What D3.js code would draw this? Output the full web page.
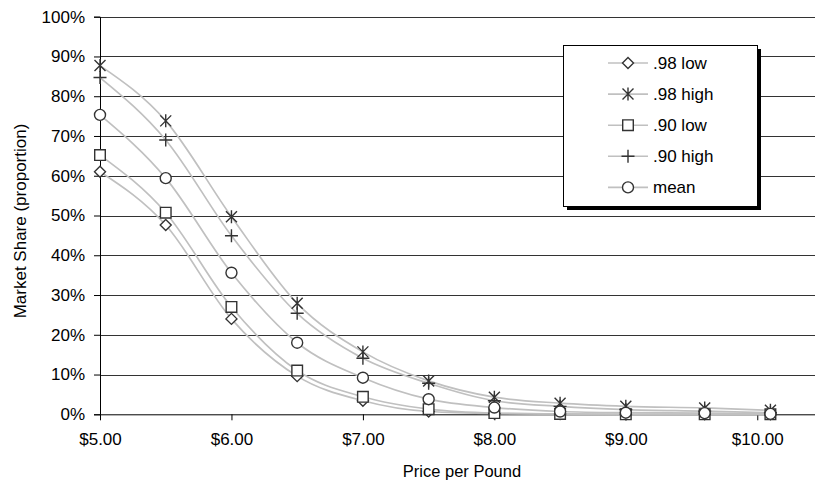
<!DOCTYPE html>
<html>
<head>
<meta charset="utf-8">
<script src="https://cdn.jsdelivr.net/npm/d3@7/dist/d3.min.js"></script>
<style>
  html, body { margin: 0; padding: 0; background: #fff; }
  svg { display: block; }
  text { font-family: "Liberation Sans", Arial, sans-serif; fill: #000; }
</style>
</head>
<body>
<svg id="chart" width="815" height="485"></svg>
<script>
// ---------- data ----------
const prices = [5.0, 5.5, 6.0, 6.5, 7.0, 7.5, 8.0, 8.5, 9.0, 9.6, 10.1];
const low98  = [0.610, 0.476, 0.240, 0.096, 0.034, 0.007, 0.002, 0.001, 0.000, 0.000, 0.000];
const high98 = [0.877, 0.738, 0.497, 0.279, 0.157, 0.084, 0.043, 0.028, 0.020, 0.016, 0.010];
const low90  = [0.652, 0.507, 0.270, 0.110, 0.044, 0.013, 0.003, 0.001, 0.000, 0.000, 0.000];
const high90 = [0.847, 0.690, 0.449, 0.254, 0.141, 0.078, 0.034, 0.020, 0.012, 0.008, 0.004];
const meanShare = [0.753, 0.594, 0.356, 0.180, 0.092, 0.038, 0.017, 0.007, 0.004, 0.003, 0.001];
const seriesNames = [".98 low", ".98 high", ".90 low", ".90 high", "mean"];
const seriesMarkers = ["diamond", "asterisk", "square", "plus", "circle"];
const xTickValues = [5, 6, 7, 8, 9, 10];
const yTickValues = [0, 0.1, 0.2, 0.3, 0.4, 0.5, 0.6, 0.7, 0.8, 0.9, 1.0];

const seriesValues = [low98, high98, low90, high90, meanShare];
const series = seriesNames.map((name, i) => ({
  name, marker: seriesMarkers[i],
  points: prices.map((p, j) => ({ x: p, y: seriesValues[i][j] }))
}));

// ---------- layout ----------
const svg = d3.select("#chart");
const plotLeft = 100, plotRight = 823, plotTop = 16.7, plotBottom = 414.3;
const x = d3.scaleLinear().domain([5, 10.5]).range([plotLeft, plotRight]);
const y = d3.scaleLinear().domain([0, 1]).range([plotBottom, plotTop]);
const FONT = "17px";

// gridlines
svg.append("g").selectAll("line")
  .data(yTickValues.filter(v => v > 0))
  .join("line")
  .attr("x1", plotLeft).attr("x2", 815)
  .attr("y1", d => Math.round(y(d)) + 0.5).attr("y2", d => Math.round(y(d)) + 0.5)
  .attr("stroke", "#333").attr("stroke-width", 1);

// y axis
const yAxis = d3.axisLeft(y).tickValues(yTickValues).tickFormat(d3.format(".0%"))
  .tickSize(6).tickPadding(9);
const gy = svg.append("g").attr("transform", `translate(${plotLeft},0)`).call(yAxis);
gy.select(".domain").attr("stroke", "#000");
gy.selectAll(".tick line").attr("stroke", "#000");
gy.selectAll(".tick text").style("font-size", FONT).style("font-family", "Liberation Sans, Arial, sans-serif").attr("fill", "#000");

// x axis
const xAxis = d3.axisBottom(x).tickValues(xTickValues).tickFormat(d3.format("$.2f"))
  .tickSize(6).tickSizeOuter(0).tickPadding(13);
const gx = svg.append("g").attr("transform", `translate(0,${plotBottom})`).call(xAxis);
gx.select(".domain").attr("stroke", "#000");
gx.selectAll(".tick line").attr("stroke", "#000");
gx.selectAll(".tick text").style("font-size", FONT).style("font-family", "Liberation Sans, Arial, sans-serif").attr("fill", "#000");

// axis titles
svg.append("text")
  .attr("transform", `translate(26,221) rotate(-90)`)
  .attr("text-anchor", "middle")
  .style("font-size", FONT)
  .text("Market Share (proportion)");
svg.append("text")
  .attr("x", 462).attr("y", 477)
  .attr("text-anchor", "middle")
  .style("font-size", "16.5px")
  .text("Price per Pound");

// ---------- marks ----------
function markerPath(type) {
  switch (type) {
    case "diamond": return "M0,-5.5L5.5,0L0,5.5L-5.5,0Z";
    case "square": return "M-5.3,-5.3H5.3V5.3H-5.3Z";
    case "asterisk": return "M-5.5,-5.5L5.5,5.5M-5.5,5.5L5.5,-5.5M0,-6.5V6.5";
    case "plus": return "M-6.5,0H6.5M0,-6.5V6.5";
    case "circle": return "M5.5,0A5.5,5.5 0 1 1 -5.5,0A5.5,5.5 0 1 1 5.5,0Z";
  }
}
function drawMarker(sel, type) {
  sel.append("path")
    .attr("d", markerPath(type))
    .attr("fill", (type === "asterisk" || type === "plus") ? "none" : "#fff")
    .attr("stroke", "#333")
    .attr("stroke-width", 1.4);
}

const line = d3.line().x(d => x(d.x)).y(d => y(d.y)).curve(d3.curveMonotoneX);
const plot = svg.append("g");
plot.selectAll("path.series-line")
  .data(series)
  .join("path")
  .attr("class", "series-line")
  .attr("d", d => line(d.points))
  .attr("fill", "none")
  .attr("stroke", "#c0c0c0")
  .attr("stroke-width", 1.7);

series.forEach(s => {
  const g = plot.append("g");
  s.points.forEach(p => {
    const m = g.append("g").attr("transform", `translate(${x(p.x)},${y(p.y)})`);
    drawMarker(m, s.marker);
  });
});

// ---------- legend ----------
const lgX = 563, lgY = 45, lgW = 194, lgH = 161;
const legend = svg.append("g");
legend.append("rect").attr("x", lgX + 4).attr("y", lgY + 4).attr("width", lgW).attr("height", lgH).attr("fill", "#000");
legend.append("rect").attr("x", lgX + 0.5).attr("y", lgY + 0.5).attr("width", lgW).attr("height", lgH)
  .attr("fill", "#fff").attr("stroke", "#000").attr("stroke-width", 1);
const rows = legend.selectAll("g.row").data(series).join("g")
  .attr("class", "row")
  .attr("transform", (d, i) => `translate(0,${63 + i * 31.1})`);
rows.append("line").attr("x1", 608).attr("x2", 648).attr("y1", 0).attr("y2", 0)
  .attr("stroke", "#c0c0c0").attr("stroke-width", 1.6);
rows.each(function(d) {
  const m = d3.select(this).append("g").attr("transform", "translate(628,0)");
  drawMarker(m, d.marker);
});
rows.append("text").attr("x", 653).attr("y", 0).attr("dy", "0.35em")
  .style("font-size", FONT).text(d => d.name);
</script>
</body>
</html>
